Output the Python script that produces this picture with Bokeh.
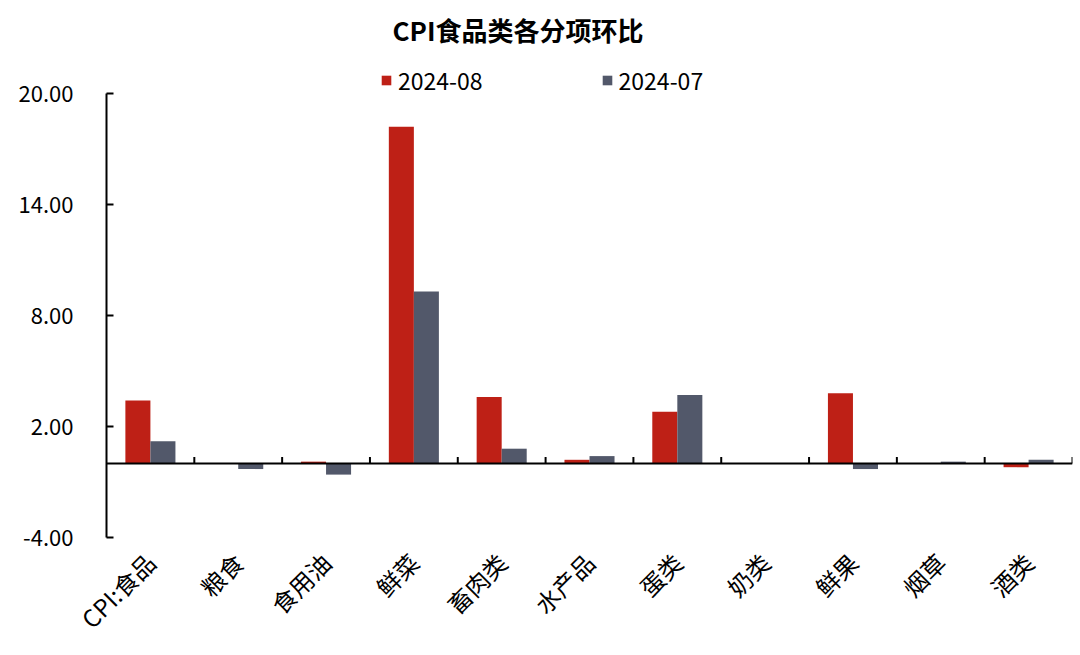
import numpy as np
from bokeh.plotting import figure
from bokeh.models import (Range1d, FixedTicker, Span, Legend, LegendItem,
                          ColumnDataSource, NumeralTickFormatter)
from bokeh.embed import file_html
from bokeh.resources import INLINE

# ---- data ----
categories = ["CPI:食品", "粮食", "食用油", "鲜菜", "畜肉类", "水产品", "蛋类", "奶类", "鲜果", "烟草", "酒类"]
aug_2024 = [3.4, 0.0, 0.1, 18.2, 3.6, 0.2, 2.8, 0.0, 3.8, 0.0, -0.2]
jul_2024 = [1.2, -0.3, -0.6, 9.3, 0.8, 0.4, 3.7, 0.0, -0.3, 0.1, 0.2]
series_names = ["2024-08", "2024-07"]
y_ticks = [-4, 2, 8, 14, 20]

FONT = "Noto Sans CJK SC"
RED = "#BE2016"
GRAY = "#52586A"

n = len(categories)
centers = np.arange(n) + 0.5
bw = 0.285

src = ColumnDataSource(dict(
    x_aug=centers - bw / 2, x_jul=centers + bw / 2,
    aug=aug_2024, jul=jul_2024))

# extra headroom above the axis (axis line itself is bounded to the tick range)
p = figure(width=1080, height=655, output_backend="svg", toolbar_location=None,
           x_range=Range1d(0, n), y_range=Range1d(min(y_ticks), max(y_ticks) + 2),
           min_border_left=106, min_border_right=8, min_border_top=56, min_border_bottom=118,
           outline_line_color=None)
p.xgrid.visible = False
p.ygrid.visible = False

# title
p.title.text = "CPI食品类各分项环比"
p.title.align = "left"
p.title.offset = 286
p.title.text_font = FONT
p.title.text_font_size = "26px"
p.title.text_font_style = "bold"
p.title.text_color = "black"
p.title.standoff = 17

r_aug = p.vbar(x="x_aug", top="aug", bottom=0, width=bw, source=src,
               fill_color=RED, line_color=None)
r_jul = p.vbar(x="x_jul", top="jul", bottom=0, width=bw, source=src,
               fill_color=GRAY, line_color=None)

# zero line and category boundary ticks
p.add_layout(Span(location=0, dimension="width", line_color="black", line_width=2))
bounds = np.arange(1, n + 1)
p.segment(x0=bounds, y0=np.zeros(n), x1=bounds, y1=np.full(n, 0.35),
          line_color="black", line_width=2)

# x axis (labels only)
xa = p.xaxis[0]
xa.ticker = FixedTicker(ticks=list(centers))
xa.major_label_overrides = {float(c): name for c, name in zip(centers, categories)}
xa.major_label_orientation = np.pi / 4
xa.axis_line_color = None
xa.major_tick_line_color = None
xa.minor_tick_line_color = None
xa.major_label_text_font = FONT
xa.major_label_text_font_size = "24px"
xa.major_label_text_color = "black"
xa.major_label_standoff = 14

# y axis
ya = p.yaxis[0]
ya.ticker = FixedTicker(ticks=y_ticks)
ya.bounds = (min(y_ticks), max(y_ticks))
ya.formatter = NumeralTickFormatter(format="0.00")
ya.axis_line_width = 2
ya.axis_line_color = "black"
ya.major_tick_in = 7
ya.major_tick_out = 0
ya.major_tick_line_width = 2
ya.major_tick_line_color = "black"
ya.minor_tick_line_color = None
ya.major_label_text_font = FONT
ya.major_label_text_font_size = "22px"
ya.major_label_text_color = "black"
ya.major_label_standoff = 33

# legend (inside frame headroom)
legend = Legend(items=[LegendItem(label=series_names[0], renderers=[r_aug]),
                       LegendItem(label=series_names[1], renderers=[r_jul])],
                orientation="horizontal", location=(274, 440),
                glyph_width=12, glyph_height=12, label_standoff=6, spacing=118,
                padding=0, margin=0, border_line_color=None, background_fill_alpha=0,
                label_text_font=FONT, label_text_font_size="23px", label_text_color="black")
p.add_layout(legend, "center")

open("out.html", "w").write(file_html(p, INLINE))
